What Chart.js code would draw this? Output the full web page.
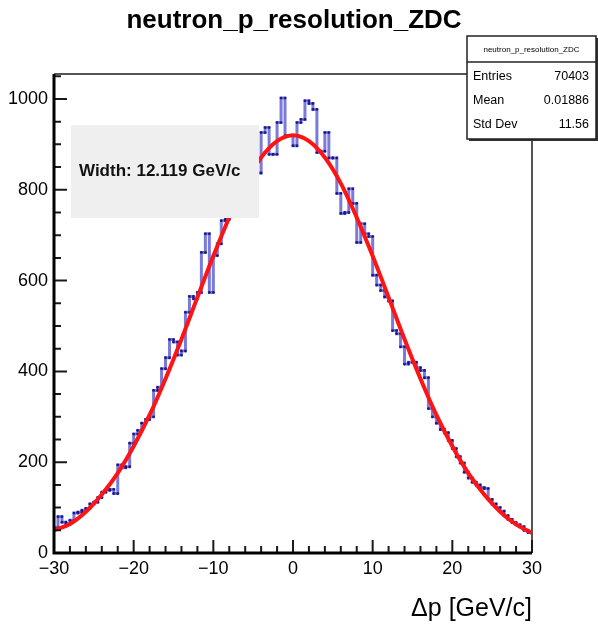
<!DOCTYPE html>
<html>
<head>
<meta charset="utf-8">
<script src="https://cdn.jsdelivr.net/npm/chart.js@4.4.0/dist/chart.umd.min.js"></script>
<style>
  html, body { margin: 0; padding: 0; background: #fff; }
  canvas { display: block; }
</style>
</head>
<body>
<canvas id="c" width="598" height="626"></canvas>
<script>
// histogram: 120 bins of 0.5 GeV/c from -30 to 30
const binLow = -30;
const binWidth = 0.5;
const counts = [
  56, 80, 68, 64, 72, 88, 90, 94, 98, 108,
  112, 122, 134, 138, 140, 131, 194, 188, 190, 242,
  262, 270, 286, 294, 300, 358, 365, 406, 430, 470,
  465, 436, 445, 530, 565, 560, 574, 662, 703, 574,
  655, 681, 732, 735, 780, 770, 800, 810, 825, 850,
  860, 837, 926, 937, 878, 878, 948, 1002, 919, 919,
  897, 948, 955, 996, 990, 977, 882, 885, 926, 870,
  870, 792, 748, 750, 802, 770, 684, 725, 703, 697,
  612, 590, 578, 564, 555, 490, 483, 454, 416, 420,
  420, 408, 402, 386, 318, 300, 286, 272, 265, 248,
  230, 212, 198, 178, 165, 156, 150, 144, 142, 118,
  108, 100, 92, 82, 74, 67, 62, 58, 50, 45
];

const fitX = [-30, -28, -26, -24, -22, -20, -18, -16, -14, -12, -10, -8, -6, -4, -2, 0,
              2, 4, 6, 8, 10, 12, 14, 16, 18, 20, 22, 24, 26, 28, 30];
const fitY = [50, 64, 91, 129, 176, 235, 304, 384, 471, 563, 654, 739, 814, 871, 907, 920,
              907, 871, 814, 739, 654, 563, 471, 384, 304, 235, 176, 129, 91, 63, 44];

// axis ticks
const xTicks = [-30, -20, -10, 0, 10, 20, 30];
const yTicks = [0, 200, 400, 600, 800, 1000];

// text boxes
const histName = "neutron_p_resolution_ZDC";
const statsRows = [["Entries", "70403"], ["Mean", "0.01886"], ["Std Dev", "11.56"]];
const fitLabel = "Width: 12.119 GeV/c";
const xTitle = "\u0394p [GeV/c]";

const FONT = '"Liberation Sans", Arial, Helvetica, sans-serif';

// step outline: two points per bin
const histPts = [];
counts.forEach((v, i) => {
  const lo = binLow + i * binWidth;
  histPts.push({ x: lo, y: v }, { x: lo + binWidth, y: v });
});

// frame and inward tick marks like ROOT
const rootFrame = {
  id: 'rootFrame',
  afterDatasetsDraw(chart) {
    const { ctx, chartArea: a, scales: { x, y } } = chart;
    ctx.save();
    ctx.strokeStyle = '#555';
    ctx.lineWidth = 2;
    ctx.beginPath();
    ctx.moveTo(a.left, a.top);
    ctx.lineTo(a.right, a.top);
    ctx.lineTo(a.right, a.bottom);
    ctx.stroke();

    ctx.strokeStyle = '#1a1a1a';
    ctx.lineWidth = 2;
    ctx.beginPath();
    for (let v = -30; v <= 30; v += 2) {
      const px = x.getPixelForValue(v);
      const len = v % 10 === 0 ? 13 : 7;
      ctx.moveTo(px, a.bottom);
      ctx.lineTo(px, a.bottom - len);
    }
    for (let v = 0; v <= 1050; v += 50) {
      const py = y.getPixelForValue(v);
      const len = v % 200 === 0 ? 13 : 7;
      ctx.moveTo(a.left, py);
      ctx.lineTo(a.left + len, py);
    }
    ctx.stroke();

    ctx.strokeStyle = '#000';
    ctx.lineWidth = 3;
    ctx.beginPath();
    ctx.moveTo(a.left, a.top);
    ctx.lineTo(a.left, a.bottom);
    ctx.lineTo(a.right, a.bottom);
    ctx.stroke();
    ctx.restore();
  },
  afterDraw(chart) {
    const ctx = chart.ctx;
    ctx.save();

    // fit width label
    ctx.fillStyle = '#efefef';
    ctx.fillRect(71, 125, 188, 93);
    ctx.fillStyle = '#111';
    ctx.font = 'bold 17px ' + FONT;
    ctx.textAlign = 'left';
    ctx.textBaseline = 'middle';
    ctx.fillText(fitLabel, 79, 171);

    // stats box
    const bx = 467, by = 36, bw = 129, bh = 103;
    ctx.fillStyle = '#333';
    ctx.fillRect(bx + 2, by + 2, bw, bh);
    ctx.fillStyle = '#fff';
    ctx.fillRect(bx, by, bw, bh);
    ctx.strokeStyle = '#222';
    ctx.lineWidth = 1.5;
    ctx.strokeRect(bx, by, bw, bh);
    ctx.beginPath();
    ctx.moveTo(bx, by + 26);
    ctx.lineTo(bx + bw, by + 26);
    ctx.stroke();
    ctx.fillStyle = '#000';
    ctx.font = '8px ' + FONT;
    ctx.textAlign = 'center';
    ctx.fillText(histName, bx + bw / 2, by + 14);
    ctx.font = '12.5px ' + FONT;
    statsRows.forEach((r, i) => {
      const ry = by + 41 + i * 24;
      ctx.textAlign = 'left';
      ctx.fillText(r[0], bx + 6, ry);
      ctx.textAlign = 'right';
      ctx.fillText(r[1], bx + bw - 7, ry);
    });

    // titles
    ctx.textBaseline = 'alphabetic';
    ctx.textAlign = 'center';
    ctx.font = 'bold 26px ' + FONT;
    ctx.fillText(histName, 294, 28);
    ctx.textAlign = 'right';
    ctx.font = '25px ' + FONT;
    ctx.fillText(xTitle, 532, 616);
    ctx.restore();
  }
};

new Chart(document.getElementById('c'), {
  type: 'line',
  data: {
    datasets: [
      {
        label: 'fit',
        data: fitX.map((x, i) => ({ x: x, y: fitY[i] })),
        borderColor: '#ff1414',
        borderWidth: 4,
        pointRadius: 0,
        cubicInterpolationMode: 'monotone',
        fill: false
      },
      {
        label: 'hist',
        data: histPts,
        borderColor: 'rgba(70, 70, 205, 0.72)',
        borderWidth: 3,
        pointRadius: 1.4,
        pointBorderWidth: 0,
        pointBackgroundColor: '#18188c',
        tension: 0,
        fill: false
      }
    ]
  },
  options: {
    responsive: false,
    animation: false,
    devicePixelRatio: 1,
    layout: { padding: { top: 74, right: 66, left: 0, bottom: 0 } },
    plugins: { legend: { display: false }, tooltip: { enabled: false }, title: { display: false } },
    scales: {
      x: {
        type: 'linear',
        min: -30,
        max: 30,
        grid: { display: false, drawTicks: false },
        border: { display: false },
        afterBuildTicks: s => { s.ticks = xTicks.map(v => ({ value: v })); },
        afterFit: s => { s.height = 73; },
        ticks: {
          autoSkip: false,
          maxRotation: 0,
          padding: 5,
          color: '#000',
          font: { family: FONT, size: 18 },
          callback: v => v < 0 ? '\u2212' + Math.abs(v) : String(v)
        }
      },
      y: {
        min: 0,
        max: 1055,
        grid: { display: false, drawTicks: false },
        border: { display: false },
        afterBuildTicks: s => { s.ticks = yTicks.map(v => ({ value: v })); },
        afterFit: s => { s.width = 54; },
        ticks: {
          padding: 6,
          color: '#000',
          font: { family: FONT, size: 18 },
          callback: v => String(v)
        }
      }
    }
  },
  plugins: [rootFrame]
});
</script>
</body>
</html>
